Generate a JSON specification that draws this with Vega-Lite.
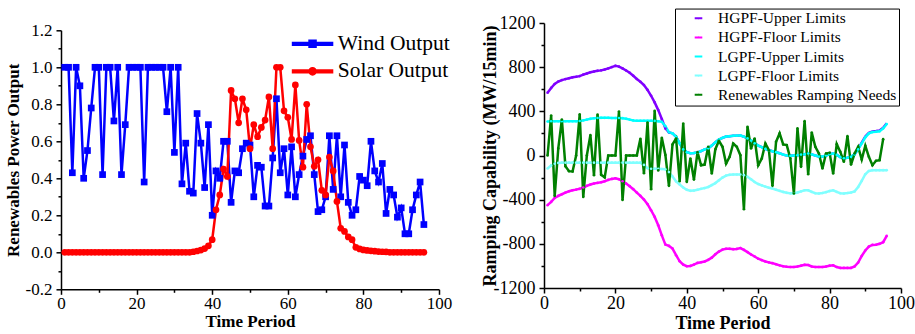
{
  "$schema": "https://vega.github.io/schema/vega-lite/v6.json",
  "padding": {"left": 4, "top": 8, "right": 1, "bottom": 0},
  "config": {
    "view": {"stroke": null},
    "font": "Liberation Serif",
    "axis": {"grid": false, "domainColor": "black", "domainWidth": 1.5, "tickColor": "black", "tickWidth": 1.5, "tickSize": 5, "labelColor": "black", "titleColor": "black", "labelFont": "Liberation Serif", "titleFont": "Liberation Serif", "titleFontWeight": "bold", "labelFlush": false},
    "legend": {"labelFont": "Liberation Serif", "labelColor": "black", "labelLimit": 400}
  },
  "datasets": {
    "left": [
      {"t":1,"wind":1,"solar":0},{"t":2,"wind":1,"solar":0},{"t":3,"wind":0.43,"solar":0},{"t":4,"wind":1,"solar":0},{"t":5,"wind":0.9,"solar":0},{"t":6,"wind":0.4,"solar":0},{"t":7,"wind":0.55,"solar":0},{"t":8,"wind":0.78,"solar":0},{"t":9,"wind":1,"solar":0},{"t":10,"wind":1,"solar":0},
      {"t":11,"wind":0.42,"solar":0},{"t":12,"wind":1,"solar":0},{"t":13,"wind":1,"solar":0},{"t":14,"wind":0.71,"solar":0},{"t":15,"wind":1,"solar":0},{"t":16,"wind":0.42,"solar":0},{"t":17,"wind":0.69,"solar":0},{"t":18,"wind":1,"solar":0},{"t":19,"wind":1,"solar":0},{"t":20,"wind":1,"solar":0},
      {"t":21,"wind":1,"solar":0},{"t":22,"wind":0.38,"solar":0},{"t":23,"wind":1,"solar":0},{"t":24,"wind":1,"solar":0},{"t":25,"wind":1,"solar":0},{"t":26,"wind":1,"solar":0},{"t":27,"wind":1,"solar":0},{"t":28,"wind":0.76,"solar":0},{"t":29,"wind":1,"solar":0},{"t":30,"wind":0.54,"solar":0},
      {"t":31,"wind":1,"solar":0},{"t":32,"wind":0.37,"solar":0},{"t":33,"wind":0.59,"solar":0},{"t":34,"wind":0.33,"solar":0},{"t":35,"wind":0.32,"solar":0.003},{"t":36,"wind":0.75,"solar":0.007},{"t":37,"wind":0.59,"solar":0.012},{"t":38,"wind":0.35,"solar":0.02},{"t":39,"wind":0.69,"solar":0.035},{"t":40,"wind":0.2,"solar":0.068},
      {"t":41,"wind":0.44,"solar":0.23},{"t":42,"wind":0.4,"solar":0.31},{"t":43,"wind":0.6,"solar":0.45},{"t":44,"wind":0.6,"solar":0.41},{"t":45,"wind":0.27,"solar":0.875},{"t":46,"wind":0.44,"solar":0.83},{"t":47,"wind":0.43,"solar":0.7},{"t":48,"wind":0.56,"solar":0.83},{"t":49,"wind":0.59,"solar":0.77},{"t":50,"wind":0.58,"solar":0.56},
      {"t":51,"wind":0.3,"solar":0.69},{"t":52,"wind":0.47,"solar":0.625},{"t":53,"wind":0.46,"solar":0.675},{"t":54,"wind":0.25,"solar":0.715},{"t":55,"wind":0.25,"solar":0.84},{"t":56,"wind":0.51,"solar":0.56},{"t":57,"wind":0.83,"solar":1},{"t":58,"wind":0.43,"solar":1},{"t":59,"wind":0.56,"solar":0.765},{"t":60,"wind":0.31,"solar":0.73},
      {"t":61,"wind":0.57,"solar":0.61},{"t":62,"wind":0.3,"solar":0.905},{"t":63,"wind":0.42,"solar":0.605},{"t":64,"wind":0.52,"solar":0.46},{"t":65,"wind":0.61,"solar":0.8},{"t":66,"wind":0.63,"solar":0.57},{"t":67,"wind":0.42,"solar":0.465},{"t":68,"wind":0.22,"solar":0.5},{"t":69,"wind":0.23,"solar":0.335},{"t":70,"wind":0.3,"solar":0.31},
      {"t":71,"wind":0.63,"solar":0.515},{"t":72,"wind":0.34,"solar":0.44},{"t":73,"wind":0.63,"solar":0.275},{"t":74,"wind":0.3,"solar":0.13},{"t":75,"wind":0.58,"solar":0.113},{"t":76,"wind":0.27,"solar":0.083},{"t":77,"wind":0.2,"solar":0.068},{"t":78,"wind":0.23,"solar":0.027},{"t":79,"wind":0.41,"solar":0.018},{"t":80,"wind":0.39,"solar":0.013},
      {"t":81,"wind":0.36,"solar":0.01},{"t":82,"wind":0.6,"solar":0.008},{"t":83,"wind":0.44,"solar":0.006},{"t":84,"wind":0.38,"solar":0.004},{"t":85,"wind":0.48,"solar":0.003},{"t":86,"wind":0.21,"solar":0.002},{"t":87,"wind":0.34,"solar":0},{"t":88,"wind":0.31,"solar":0},{"t":89,"wind":0.19,"solar":0},{"t":90,"wind":0.24,"solar":0},
      {"t":91,"wind":0.1,"solar":0},{"t":92,"wind":0.1,"solar":0},{"t":93,"wind":0.23,"solar":0},{"t":94,"wind":0.31,"solar":0},{"t":95,"wind":0.38,"solar":0},{"t":96,"wind":0.15,"solar":0}
    ],
    "right": [
      {"t":1,"hu":568,"hf":-450,"lu":308,"lf":-118,"rn":0},
      {"t":2,"hu":612,"hf":-420,"lu":310,"lf":-90,"rn":362},
      {"t":3,"hu":648,"hf":-384,"lu":310,"lf":-75,"rn":-366},
      {"t":4,"hu":670,"hf":-366,"lu":310,"lf":-67,"rn":64},
      {"t":5,"hu":683,"hf":-351,"lu":310,"lf":-65,"rn":325},
      {"t":6,"hu":692,"hf":-336,"lu":310,"lf":-65,"rn":-97},
      {"t":7,"hu":700,"hf":-324,"lu":310,"lf":-65,"rn":-142},
      {"t":8,"hu":708,"hf":-315,"lu":310,"lf":-65,"rn":-145},
      {"t":9,"hu":713,"hf":-309,"lu":310,"lf":-65,"rn":0},
      {"t":10,"hu":719,"hf":-302,"lu":312,"lf":-65,"rn":372},
      {"t":11,"hu":732,"hf":-290,"lu":318,"lf":-65,"rn":-375},
      {"t":12,"hu":743,"hf":-275,"lu":325,"lf":-65,"rn":0},
      {"t":13,"hu":754,"hf":-263,"lu":332,"lf":-65,"rn":185},
      {"t":14,"hu":761,"hf":-254,"lu":337,"lf":-65,"rn":-178},
      {"t":15,"hu":767,"hf":-248,"lu":340,"lf":-65,"rn":370},
      {"t":16,"hu":771,"hf":-242,"lu":341,"lf":-65,"rn":-175},
      {"t":17,"hu":779,"hf":-233,"lu":341,"lf":-65,"rn":-198},
      {"t":18,"hu":789,"hf":-221,"lu":341,"lf":-65,"rn":0},
      {"t":19,"hu":801,"hf":-212,"lu":340,"lf":-65,"rn":0},
      {"t":20,"hu":812,"hf":-206,"lu":340,"lf":-65,"rn":0},
      {"t":21,"hu":805,"hf":-215,"lu":340,"lf":-65,"rn":398},
      {"t":22,"hu":789,"hf":-233,"lu":338,"lf":-65,"rn":-403},
      {"t":23,"hu":770,"hf":-254,"lu":333,"lf":-65,"rn":0},
      {"t":24,"hu":749,"hf":-278,"lu":325,"lf":-65,"rn":0},
      {"t":25,"hu":722,"hf":-305,"lu":318,"lf":-65,"rn":0},
      {"t":26,"hu":693,"hf":-336,"lu":315,"lf":-65,"rn":0},
      {"t":27,"hu":668,"hf":-366,"lu":315,"lf":-65,"rn":152},
      {"t":28,"hu":638,"hf":-399,"lu":315,"lf":-85,"rn":-160},
      {"t":29,"hu":594,"hf":-441,"lu":315,"lf":-115,"rn":298},
      {"t":30,"hu":541,"hf":-496,"lu":315,"lf":-120,"rn":-305},
      {"t":31,"hu":481,"hf":-556,"lu":313,"lf":-120,"rn":405},
      {"t":32,"hu":411,"hf":-632,"lu":310,"lf":-120,"rn":-135},
      {"t":33,"hu":330,"hf":-723,"lu":305,"lf":-122,"rn":160},
      {"t":34,"hu":245,"hf":-807,"lu":265,"lf":-125,"rn":5},
      {"t":35,"hu":209,"hf":-819,"lu":210,"lf":-150,"rn":-275},
      {"t":36,"hu":200,"hf":-843,"lu":200,"lf":-190,"rn":100},
      {"t":37,"hu":170,"hf":-903,"lu":170,"lf":-235,"rn":154},
      {"t":38,"hu":110,"hf":-958,"lu":110,"lf":-262,"rn":-233},
      {"t":39,"hu":55,"hf":-988,"lu":55,"lf":-290,"rn":290},
      {"t":40,"hu":30,"hf":-1003,"lu":30,"lf":-310,"rn":-239},
      {"t":41,"hu":20,"hf":-1000,"lu":20,"lf":-320,"rn":-27},
      {"t":42,"hu":22,"hf":-988,"lu":22,"lf":-318,"rn":-218},
      {"t":43,"hu":28,"hf":-973,"lu":28,"lf":-310,"rn":30},
      {"t":44,"hu":40,"hf":-967,"lu":40,"lf":-302,"rn":-88},
      {"t":45,"hu":55,"hf":-960,"lu":55,"lf":-295,"rn":-82},
      {"t":46,"hu":65,"hf":-945,"lu":65,"lf":-285,"rn":79},
      {"t":47,"hu":90,"hf":-925,"lu":90,"lf":-268,"rn":-163},
      {"t":48,"hu":120,"hf":-895,"lu":120,"lf":-250,"rn":57},
      {"t":49,"hu":145,"hf":-870,"lu":145,"lf":-225,"rn":133},
      {"t":50,"hu":160,"hf":-852,"lu":160,"lf":-200,"rn":79},
      {"t":51,"hu":172,"hf":-845,"lu":172,"lf":-182,"rn":-73},
      {"t":52,"hu":175,"hf":-845,"lu":175,"lf":-175,"rn":-12},
      {"t":53,"hu":178,"hf":-848,"lu":178,"lf":-172,"rn":109},
      {"t":54,"hu":180,"hf":-846,"lu":180,"lf":-172,"rn":79},
      {"t":55,"hu":182,"hf":-838,"lu":182,"lf":-172,"rn":3},
      {"t":56,"hu":170,"hf":-855,"lu":170,"lf":-178,"rn":-487},
      {"t":57,"hu":155,"hf":-875,"lu":155,"lf":-193,"rn":260},
      {"t":58,"hu":135,"hf":-897,"lu":135,"lf":-215,"rn":63},
      {"t":59,"hu":110,"hf":-915,"lu":110,"lf":-240,"rn":154},
      {"t":60,"hu":90,"hf":-935,"lu":90,"lf":-258,"rn":-88},
      {"t":61,"hu":75,"hf":-948,"lu":75,"lf":-270,"rn":-27},
      {"t":62,"hu":60,"hf":-960,"lu":60,"lf":-282,"rn":109},
      {"t":63,"hu":48,"hf":-968,"lu":48,"lf":-292,"rn":48},
      {"t":64,"hu":38,"hf":-975,"lu":38,"lf":-300,"rn":-275},
      {"t":65,"hu":30,"hf":-985,"lu":30,"lf":-310,"rn":124},
      {"t":66,"hu":20,"hf":-995,"lu":20,"lf":-320,"rn":200},
      {"t":67,"hu":8,"hf":-1003,"lu":8,"lf":-330,"rn":100},
      {"t":68,"hu":0,"hf":-1008,"lu":0,"lf":-338,"rn":94},
      {"t":69,"hu":-3,"hf":-1010,"lu":-3,"lf":-343,"rn":-27},
      {"t":70,"hu":0,"hf":-1010,"lu":0,"lf":-344,"rn":-344},
      {"t":71,"hu":3,"hf":-1005,"lu":3,"lf":-335,"rn":245},
      {"t":72,"hu":8,"hf":-998,"lu":8,"lf":-325,"rn":-103},
      {"t":73,"hu":12,"hf":-990,"lu":12,"lf":-315,"rn":311},
      {"t":74,"hu":18,"hf":-992,"lu":18,"lf":-315,"rn":-169},
      {"t":75,"hu":10,"hf":-1005,"lu":10,"lf":-330,"rn":208},
      {"t":76,"hu":0,"hf":-1010,"lu":0,"lf":-342,"rn":79},
      {"t":77,"hu":-10,"hf":-1010,"lu":-10,"lf":-344,"rn":18},
      {"t":78,"hu":-10,"hf":-1010,"lu":-10,"lf":-340,"rn":-118},
      {"t":79,"hu":0,"hf":-1005,"lu":0,"lf":-332,"rn":18},
      {"t":80,"hu":12,"hf":-998,"lu":12,"lf":-322,"rn":24},
      {"t":81,"hu":18,"hf":-995,"lu":18,"lf":-315,"rn":-163},
      {"t":82,"hu":5,"hf":-1010,"lu":5,"lf":-330,"rn":103},
      {"t":83,"hu":-15,"hf":-1018,"lu":-15,"lf":-342,"rn":33},
      {"t":84,"hu":-25,"hf":-1018,"lu":-25,"lf":-344,"rn":-57},
      {"t":85,"hu":-20,"hf":-1018,"lu":-20,"lf":-340,"rn":175},
      {"t":86,"hu":-12,"hf":-1018,"lu":-12,"lf":-335,"rn":-82},
      {"t":87,"hu":10,"hf":-1005,"lu":10,"lf":-325,"rn":18},
      {"t":88,"hu":61,"hf":-970,"lu":55,"lf":-285,"rn":79},
      {"t":89,"hu":116,"hf":-910,"lu":110,"lf":-230,"rn":-36},
      {"t":90,"hu":171,"hf":-860,"lu":165,"lf":-170,"rn":88},
      {"t":91,"hu":206,"hf":-825,"lu":200,"lf":-140,"rn":-12},
      {"t":92,"hu":218,"hf":-810,"lu":212,"lf":-133,"rn":-88},
      {"t":93,"hu":221,"hf":-808,"lu":215,"lf":-133,"rn":-48},
      {"t":94,"hu":226,"hf":-800,"lu":220,"lf":-133,"rn":-42},
      {"t":95,"hu":251,"hf":-785,"lu":245,"lf":-133,"rn":148},
      {"t":96,"hu":291,"hf":-728,"lu":285,"lf":-133,"rn":null}
    ]
  },
  "spacing": 29,
  "bounds": "full",
  "resolve": {"scale": {"color": "independent", "size": "independent"}, "legend": {"color": "independent"}},
  "hconcat": [
    {
      "vconcat": [
        {
          "width": 378,
          "height": 1,
          "data": {"values": []},
          "mark": {"type": "point", "opacity": 0},
          "encoding": {}
        },
        {
          "width": 378,
          "height": 259,
          "data": {"name": "left"},
          "transform": [{"fold": ["wind", "solar"], "as": ["series", "value"]}],
          "layer": [
            {
              "mark": {"type": "line", "strokeWidth": 2.5},
              "encoding": {
                "x": {"field": "t", "type": "quantitative", "scale": {"domain": [0, 100], "nice": false},
                      "axis": {"values": [0, 20, 40, 60, 80, 100], "title": "Time Period", "labelFontSize": 17, "titleFontSize": 17, "labelPadding": 1, "titlePadding": 2}},
                "y": {"field": "value", "type": "quantitative", "scale": {"domain": [-0.2, 1.2], "nice": false, "zero": false},
                      "axis": {"values": [-0.2, 0, 0.2, 0.4, 0.6, 0.8, 1.0, 1.2], "title": "Renewables Power Output", "labelFontSize": 17, "titleFontSize": 17, "labelPadding": 4, "titlePadding": 3,
                               "labelExpr": "datum.value < 0 ? '-' + format(-datum.value, '.1f') : format(datum.value, '.1f')"}},
                "color": {"field": "series", "type": "nominal", "scale": {"domain": ["wind", "solar"], "range": ["#0000ff", "#ff0000"]},
                          "legend": {"orient": "none", "legendX": 231.3, "legendY": 7.25, "title": null, "padding": 0, "rowPadding": 3.5,
                                     "symbolSize": 625, "symbolOffset": 6.75, "labelFontSize": 21.5, "labelOffset": 11.75,
                                     "labelExpr": "datum.value == 'wind' ? 'Wind Output' : 'Solar Output'",
                                     "encode": {"symbols": {"update": {
                                       "shape": {"signal": "datum.value == 'wind' ? 'M-1.6,-0.11H1.6V0.11H-1.6ZM-0.28,-0.28H0.28V0.28H-0.28Z' : 'M-1.6,-0.11H1.6V0.11H-1.6ZM-0.29,0A0.29,0.29,0,1,1,0.29,0A0.29,0.29,0,1,1,-0.29,0Z'"},
                                       "fill": {"signal": "datum.value == 'wind' ? '#0000ff' : '#ff0000'"},
                                       "stroke": {"value": "transparent"},
                                       "opacity": {"value": 1}}}}}}
              }
            },
            {
              "transform": [{"filter": "datum.series == 'wind'"}],
              "mark": {"type": "square", "opacity": 1, "size": 45, "color": "#0000ff"},
              "encoding": {
                "x": {"field": "t", "type": "quantitative", "axis": {"orient": "bottom", "values": [10, 30, 50, 70, 90], "labels": false, "title": null, "tickSize": 3, "domain": false}},
                "y": {"field": "value", "type": "quantitative", "axis": {"orient": "left", "values": [-0.1, 0.1, 0.3, 0.5, 0.7, 0.9, 1.1], "labels": false, "title": null, "tickSize": 3, "domain": false}}
              }
            },
            {
              "transform": [{"filter": "datum.series == 'solar'"}],
              "mark": {"type": "circle", "opacity": 1, "size": 45, "color": "#ff0000"},
              "encoding": {
                "x": {"field": "t", "type": "quantitative", "axis": null},
                "y": {"field": "value", "type": "quantitative", "axis": null}
              }
            }
          ],
          "resolve": {"axis": {"x": "independent", "y": "independent"}}
        }
      ],
      "spacing": 6.3,
      "bounds": "flush"
    },
    {
      "width": 357,
      "height": 265,
      "data": {"name": "right"},
      "transform": [{"fold": ["hu", "hf", "lu", "lf", "rn"], "as": ["series", "value"]}, {"filter": {"field": "value", "valid": true}}],
      "layer": [
        {
          "mark": {"type": "line", "strokeWidth": 2.5},
          "encoding": {
            "x": {"field": "t", "type": "quantitative", "scale": {"domain": [0, 100], "nice": false},
                  "axis": {"values": [0, 20, 40, 60, 80, 100], "title": "Time Period", "labelFontSize": 18, "titleFontSize": 18, "labelPadding": 1, "titlePadding": 2}},
            "y": {"field": "value", "type": "quantitative", "scale": {"domain": [-1200, 1200], "nice": false},
                  "axis": {"values": [-1200, -800, -400, 0, 400, 800, 1200], "title": "Ramping Capability (MW/15min)", "labelFontSize": 18, "titleFontSize": 18, "labelPadding": 4, "titlePadding": -6,
                           "labelExpr": "datum.value < 0 ? '-' + format(-datum.value, 'd') : format(datum.value, 'd')"}},
            "color": {"field": "series", "type": "nominal",
                      "scale": {"domain": ["hu", "hf", "lu", "lf", "rn"], "range": ["#8000ff", "#ff00ff", "#00ffff", "#80ffff", "#008000"]},
                      "legend": {"orient": "none", "legendX": 131, "legendY": -14.45, "title": null, "padding": 2, "strokeColor": "black", "fillColor": "white",
                                 "rowPadding": 2.1, "symbolSize": 256, "symbolOffset": 13.75, "labelFontSize": 15.5, "labelOffset": 11.75,
                                 "symbolType": "M-2.31,-0.19H2.31V0.19H-2.31ZM-0.27,0A0.27,0.27,0,1,1,0.27,0A0.27,0.27,0,1,1,-0.27,0Z",
                                 "labelExpr": "datum.value == 'hu' ? 'HGPF-Upper Limits' : datum.value == 'hf' ? 'HGPF-Floor Limits' : datum.value == 'lu' ? 'LGPF-Upper Limits' : datum.value == 'lf' ? 'LGPF-Floor Limits' : 'Renewables Ramping Needs'",
                                 "encode": {"symbols": {"update": {
                                   "fill": {"signal": "datum.value == 'hu' ? '#8000ff' : datum.value == 'hf' ? '#ff00ff' : datum.value == 'lu' ? '#00ffff' : datum.value == 'lf' ? '#80ffff' : '#008000'"},
                                   "stroke": {"value": "transparent"},
                                   "opacity": {"value": 1}}}}}}
          }
        },
        {
          "transform": [{"filter": "datum.series != 'hu' || datum.t <= 35"}],
          "mark": {"type": "circle", "opacity": 1},
          "encoding": {
            "x": {"field": "t", "type": "quantitative", "axis": {"orient": "bottom", "values": [10, 30, 50, 70, 90], "labels": false, "title": null, "tickSize": 3, "domain": false}},
            "y": {"field": "value", "type": "quantitative", "axis": {"orient": "left", "values": [-1000, -600, -200, 200, 600, 1000], "labels": false, "title": null, "tickSize": 3, "domain": false}},
            "color": {"field": "series", "type": "nominal"},
            "size": {"field": "series", "type": "nominal", "scale": {"domain": ["hu", "hf", "lu", "lf", "rn"], "range": [7, 7, 7, 7, 14]}, "legend": null}
          }
        }
      ],
      "resolve": {"axis": {"x": "independent", "y": "independent"}}
    }
  ]
}
